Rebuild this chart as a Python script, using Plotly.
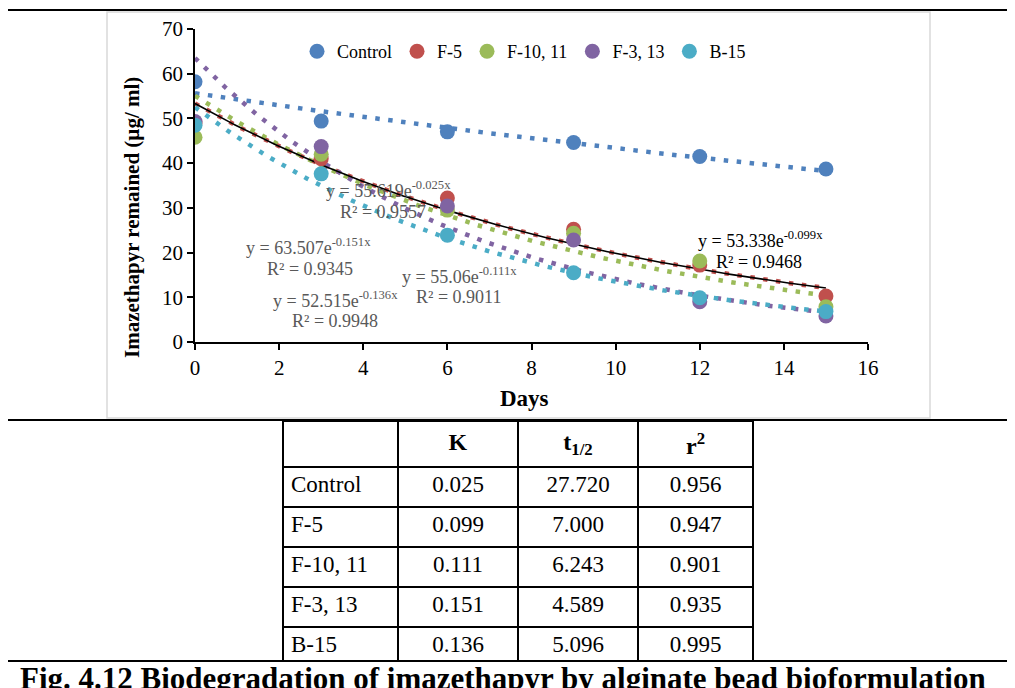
import numpy as np
import plotly.graph_objects as go

# page is 1015x688; the figure div sits 8px in from the page corner (body margin)
OFF = 8
W, H = 1015 - OFF, 688 - OFF

# ---------------- data ----------------
days = [0, 3, 6, 9, 12, 15]
series_names = ["Control", "F-5", "F-10, 11", "F-3, 13", "B-15"]
control = [58.2, 49.4, 47.0, 44.6, 41.5, 38.7]
f5 = [49.0, 41.0, 32.2, 25.2, 17.2, 10.3]
f10_11 = [45.8, 42.0, 29.5, 24.3, 18.1, 7.9]
f3_13 = [49.3, 43.7, 30.4, 22.8, 9.0, 5.8]
b15 = [48.5, 37.6, 23.9, 15.5, 9.9, 6.8]
series_values = [control, f5, f10_11, f3_13, b15]
colors = ["#4F81BD", "#C0504D", "#9BBB59", "#8064A2", "#4BACC6"]

# exponential trendline coefficients (y = a * e^(b x)) and R²
trend_a = [55.619, 53.338, 55.06, 63.507, 52.515]
trend_b = [-0.025, -0.099, -0.111, -0.151, -0.136]
trend_r2 = ["0.9557", "0.9468", "0.9011", "0.9345", "0.9948"]

# table
table_rows = ["Control", "F-5", "F-10, 11", "F-3, 13", "B-15"]
table_k = ["0.025", "0.099", "0.111", "0.151", "0.136"]
table_t12 = ["27.720", "7.000", "6.243", "4.589", "5.096"]
table_r2 = ["0.956", "0.947", "0.901", "0.935", "0.995"]

caption = "Fig. 4.12 Biodegradation of imazethapyr by alginate bead bioformulation"

FONT = "Liberation Serif, Times New Roman, serif"


def px(x):
    return (x - OFF) / W


def py(y):
    return 1 - (y - OFF) / H


fig = go.Figure()

xs = np.linspace(0, 15, 300)
# trendlines (dotted)
for name, a, b, c in zip(series_names, trend_a, trend_b, colors):
    fig.add_trace(go.Scatter(
        x=xs, y=a * np.exp(b * xs), mode="lines",
        line=dict(color=c, width=4.5, dash="4.5px,8.5px"),
        showlegend=False, hoverinfo="skip"))

# F-5 solid black trendline
fig.add_trace(go.Scatter(
    x=xs, y=trend_a[1] * np.exp(trend_b[1] * xs), mode="lines",
    line=dict(color="black", width=1.6), showlegend=False, hoverinfo="skip"))

# data markers
for name, vals, c in zip(series_names, series_values, colors):
    fig.add_trace(go.Scatter(
        x=days, y=vals, mode="markers", name=name,
        marker=dict(color=c, size=15, line=dict(width=0))))

# ---------------- layout ----------------
fig.update_layout(
    width=W, height=H,
    margin=dict(l=0, r=0, t=0, b=0, autoexpand=False),
    paper_bgcolor="white", plot_bgcolor="white",
    font=dict(family=FONT, size=18, color="black"),
    showlegend=True,
    legend=dict(orientation="h", x=px(524), y=py(33), xanchor="center", yanchor="top",
                font=dict(family=FONT, size=18, color="black"),
                itemwidth=30, tracegroupgap=0, bgcolor="rgba(0,0,0,0)"),
    xaxis=dict(domain=[px(195), px(868)], range=[0, 16], dtick=2,
               showgrid=False, zeroline=False, showline=True, linecolor="black",
               linewidth=1.5, ticks="outside", ticklen=6, tickcolor="black",
               tickwidth=1.5, anchor="y", automargin=False,
               tickfont=dict(family=FONT, size=21, color="black")),
    yaxis=dict(domain=[py(342), py(29)], range=[0, 70], dtick=10,
               showgrid=False, zeroline=False, showline=True, linecolor="black",
               linewidth=1.5, ticks="outside", ticklen=6, tickcolor="black",
               tickwidth=1.5, anchor="x", automargin=False,
               tickfont=dict(family=FONT, size=21, color="black")),
)


def ann(x, y, text, size, color="black", angle=0, xanchor="center", yanchor="middle"):
    return dict(x=px(x), y=py(y), xref="paper", yref="paper", text=text,
                textangle=angle, showarrow=False, xanchor=xanchor, yanchor=yanchor,
                font=dict(family=FONT, size=size, color=color))


annotations = []
# axis titles
annotations.append(ann(132, 218, "<b>Imazethapyr remained (µg/ ml)</b>", 21, angle=-90))
annotations.append(ann(524, 399, "<b>Days</b>", 23))

# trendline equation labels: (series index, eq center x, eq y, r2 center x, r2 y, color)
eq_pos = [
    (0, 388, 190, 383, 212, "#595959"),
    (1, 760, 239, 759, 262, "black"),
    (2, 459, 276, 458, 297, "#595959"),
    (3, 308, 247, 310, 269, "#595959"),
    (4, 335, 299, 335, 321, "#595959"),
]
for i, ex, ey, rx, ry, col in eq_pos:
    annotations.append(ann(ex, ey, f"y = {trend_a[i]}e<sup>{trend_b[i]}x</sup>", 18, col))
    annotations.append(ann(rx, ry, f"R² = {trend_r2[i]}", 18, col))

# caption
annotations.append(ann(18, 678, f"<b>{caption}</b>", 31, xanchor="left"))
fig.update_layout(annotations=annotations)

# frame shapes
shapes = [
    dict(type="rect", xref="paper", yref="paper", x0=px(107), x1=px(930),
         y0=py(418), y1=py(12), line=dict(color="#D9D9D9", width=1.5)),
    dict(type="line", xref="paper", yref="paper", x0=px(7), x1=px(7),
         y0=py(688), y1=py(10), line=dict(color="black", width=2)),
    dict(type="line", xref="paper", yref="paper", x0=px(7), x1=1,
         y0=py(10), y1=py(10), line=dict(color="black", width=2)),
    dict(type="line", xref="paper", yref="paper", x0=px(7), x1=1,
         y0=py(420), y1=py(420), line=dict(color="black", width=2)),
    dict(type="line", xref="paper", yref="paper", x0=px(7), x1=1,
         y0=py(661), y1=py(661), line=dict(color="black", width=2)),
]
fig.update_layout(shapes=shapes)

# table
fig.add_trace(go.Table(
    domain=dict(x=[px(283), px(753)], y=[py(661), py(421)]),
    columnwidth=[115, 120, 120, 115],
    header=dict(values=["", "<b>K</b>", "<b>t<sub>1/2</sub></b>", "<b>r<sup>2</sup></b>"],
                height=40, align="center", fill=dict(color="white"),
                line=dict(color="black", width=1.5),
                font=dict(family=FONT, size=24, color="black")),
    cells=dict(values=[table_rows, table_k, table_t12, table_r2],
               height=40, align=["left", "center", "center", "center"],
               fill=dict(color="white"), line=dict(color="black", width=1.5),
               font=dict(family=FONT, size=23, color="black")),
))

fig.write_html("out.html")
